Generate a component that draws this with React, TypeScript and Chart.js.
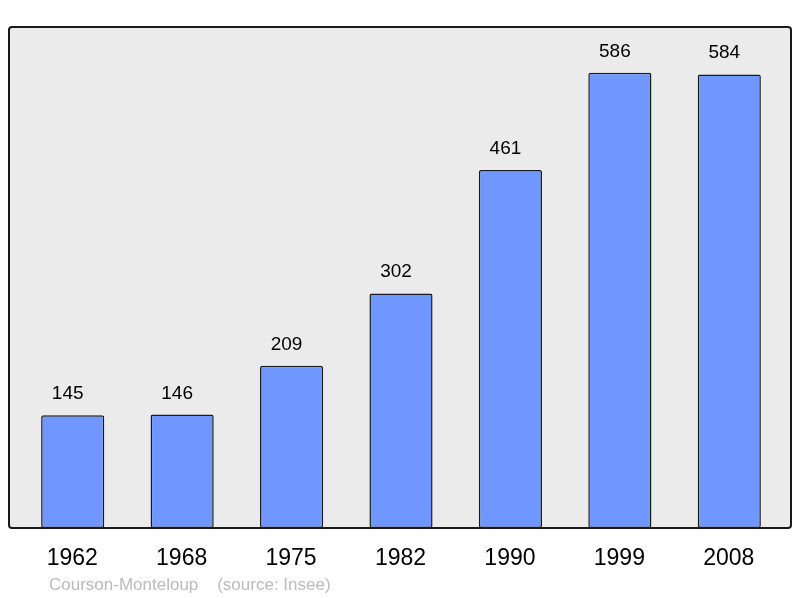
import React, { useEffect, useRef } from "react";
import { Chart, registerables } from "chart.js";

Chart.register(...registerables);

const years = ["1962", "1968", "1975", "1982", "1990", "1999", "2008"];
const population = [145, 146, 209, 302, 461, 586, 584];
const footerLabel = "Courson-Monteloup    (source: Insee)";

const FONT = "'Liberation Sans', Arial, sans-serif";

const panelPlugin = {
  id: "panel",
  beforeDraw(chart: any) {
    const { ctx, chartArea } = chart;
    const l = chartArea.left - 9;
    const r = chartArea.right + 7;
    const t = chartArea.top;
    const b = chartArea.bottom;
    ctx.save();
    ctx.beginPath();
    ctx.roundRect(l, t, r - l, b - t, 3);
    ctx.fillStyle = "#ebebeb";
    ctx.fill();
    ctx.restore();
  },
  afterDatasetsDraw(chart: any) {
    const { ctx, chartArea } = chart;
    const l = chartArea.left - 9;
    const r = chartArea.right + 7;
    const t = chartArea.top;
    const b = chartArea.bottom;
    ctx.save();
    ctx.beginPath();
    ctx.roundRect(l, t, r - l, b - t, 3);
    ctx.lineWidth = 2;
    ctx.strokeStyle = "#1a1a1a";
    ctx.stroke();
    const meta = chart.getDatasetMeta(0);
    // value labels
    ctx.fillStyle = "#000";
    ctx.font = `19px ${FONT}`;
    ctx.textAlign = "center";
    ctx.textBaseline = "alphabetic";
    meta.data.forEach((bar: any, i: number) => {
      ctx.fillText(String(population[i]), bar.x - 5, bar.y - 16);
    });
    // category labels
    ctx.font = `23px ${FONT}`;
    meta.data.forEach((bar: any, i: number) => {
      ctx.fillText(years[i], bar.x - 0.5, b + 37);
    });
    // footer
    ctx.fillStyle = "#bbbbbb";
    ctx.font = `17px ${FONT}`;
    ctx.textAlign = "left";
    ctx.fillText(footerLabel, 49, 590);
    ctx.restore();
  },
};

export default function App() {
  const ref = useRef<HTMLCanvasElement>(null);
  useEffect(() => {
    if (!ref.current) return;
    const chart = new Chart(ref.current, {
      type: "bar",
      data: {
        labels: years,
        datasets: [
          {
            data: population,
            backgroundColor: "#7097ff",
            borderColor: "#1a1a1a",
            borderWidth: 1.5,
            borderSkipped: false,
            borderRadius: 2,
            barPercentage: 0.577,
            categoryPercentage: 1,
          },
        ],
      },
      options: {
        animation: false,
        responsive: false,
        maintainAspectRatio: false,
        layout: { padding: { left: 18, right: 16, top: 27, bottom: 70 } },
        plugins: { legend: { display: false }, tooltip: { enabled: false } },
        scales: {
          x: { display: false },
          y: { display: false, min: 0, max: 645 },
        },
      },
      plugins: [panelPlugin],
    });
    return () => chart.destroy();
  }, []);
  return (
    <div style={{ position: "fixed", left: 0, top: 0, width: 800, height: 598, background: "#fff" }}>
      <canvas ref={ref} width={800} height={598} style={{ display: "block" }} />
    </div>
  );
}
